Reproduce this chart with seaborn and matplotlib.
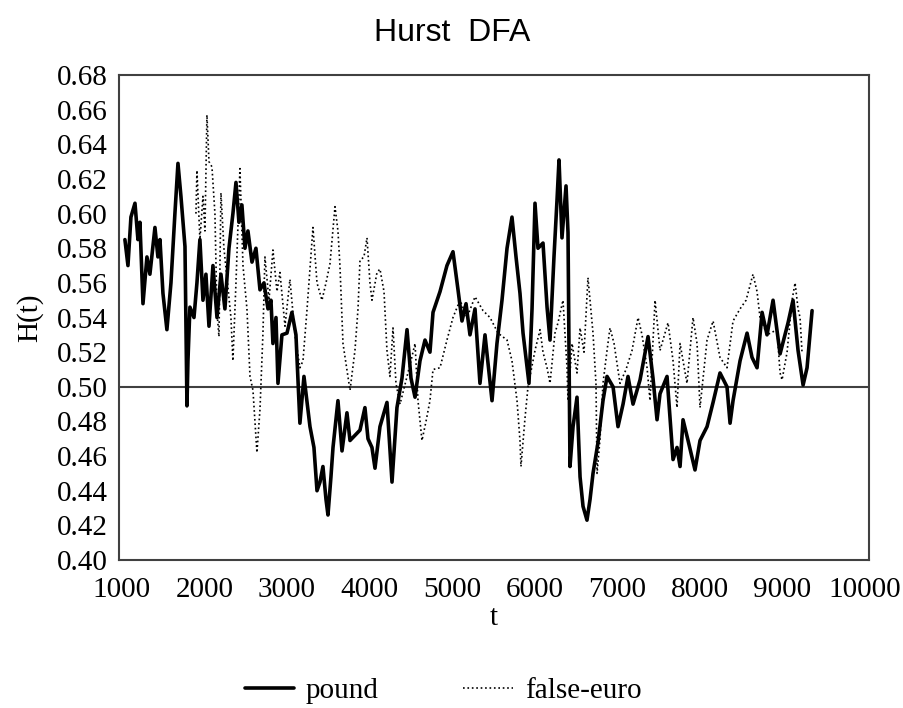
import seaborn as sns
import matplotlib.pyplot as plt
import pandas as pd

sns.set_theme(style="white")
plt.rcParams['font.family'] = ['Liberation Serif', 'DejaVu Serif']
plt.rcParams['text.color'] = 'black'
plt.rcParams['axes.labelcolor'] = 'black'
plt.rcParams['xtick.color'] = 'black'
plt.rcParams['ytick.color'] = 'black'

# values
pound_t = [1036, 1073, 1109, 1158, 1194, 1218, 1255, 1303, 1339, 1400, 1436, 1461, 1497, 1545,
           1594, 1642, 1679, 1715, 1764, 1788, 1800, 1824, 1873, 1909, 1945, 1982, 2018, 2055,
           2103, 2152, 2200, 2248, 2297, 2345, 2382, 2418, 2454, 2491, 2527, 2576, 2624, 2673,
           2721, 2770, 2806, 2830, 2867, 2891, 2939, 3000, 3060, 3109, 3157, 3206, 3279, 3327,
           3364, 3400, 3436, 3473, 3497, 3533, 3558, 3618, 3667, 3727, 3764, 3824, 3885, 3945,
           3982, 4030, 4067, 4127, 4212, 4273, 4333, 4394, 4455, 4503, 4552, 4612, 4673, 4733,
           4770, 4855, 4939, 5012, 5073, 5121, 5170, 5218, 5279, 5339, 5400, 5485, 5545, 5606,
           5667, 5727, 5776, 5824, 5861, 5933, 5970, 6006, 6042, 6103, 6152, 6188, 6236, 6273,
           6297, 6333, 6382, 6406, 6430, 6467, 6515, 6552, 6588, 6636, 6673, 6709, 6770, 6830,
           6879, 6952, 7012, 7073, 7133, 7194, 7279, 7376, 7436, 7485, 7521, 7606, 7679, 7727,
           7764, 7800, 7861, 7945, 8006, 8091, 8164, 8248, 8333, 8370, 8406, 8491, 8576, 8636,
           8697, 8758, 8818, 8891, 8976, 9073, 9133, 9194, 9255, 9303, 9364]
pound_h = [0.585, 0.570, 0.598, 0.606, 0.585, 0.595, 0.548, 0.575, 0.565, 0.592, 0.575, 0.585,
           0.554, 0.533, 0.560, 0.600, 0.629, 0.610, 0.581, 0.489, 0.515, 0.546, 0.540, 0.560,
           0.585, 0.550, 0.565, 0.535, 0.570, 0.540, 0.565, 0.545, 0.580, 0.600, 0.618, 0.595,
           0.605, 0.580, 0.590, 0.572, 0.580, 0.556, 0.560, 0.545, 0.550, 0.525, 0.540, 0.502,
           0.530, 0.531, 0.543, 0.530, 0.479, 0.506, 0.477, 0.465, 0.440, 0.445, 0.454, 0.435,
           0.426, 0.448, 0.465, 0.492, 0.463, 0.485, 0.469, 0.472, 0.475, 0.488, 0.470, 0.465,
           0.453, 0.477, 0.491, 0.445, 0.488, 0.505, 0.533, 0.505, 0.494, 0.515, 0.527, 0.520,
           0.543, 0.555, 0.570, 0.578, 0.556, 0.538, 0.548, 0.530, 0.545, 0.502, 0.530, 0.492,
           0.525, 0.550, 0.580, 0.598, 0.575, 0.554, 0.531, 0.502, 0.545, 0.606, 0.580, 0.583,
           0.546, 0.527, 0.575, 0.608, 0.631, 0.586, 0.616, 0.589, 0.454, 0.477, 0.494, 0.448,
           0.431, 0.423, 0.435, 0.450, 0.468, 0.492, 0.506, 0.500, 0.477, 0.490, 0.506, 0.490,
           0.504, 0.529, 0.505, 0.481, 0.496, 0.506, 0.458, 0.465, 0.454, 0.481, 0.469, 0.452,
           0.469, 0.477, 0.491, 0.508, 0.500, 0.479, 0.492, 0.515, 0.531, 0.517, 0.511, 0.543,
           0.530, 0.550, 0.519, 0.537, 0.550, 0.521, 0.501, 0.511, 0.544]

euro_t = [1897, 1909, 1945, 1982, 2006, 2030, 2055, 2091, 2127, 2152, 2176, 2200, 2236, 2273,
          2321, 2345, 2382, 2430, 2467, 2515, 2552, 2588, 2636, 2673, 2709, 2733, 2782, 2830,
          2879, 2915, 2976, 3036, 3097, 3157, 3194, 3242, 3315, 3364, 3424, 3473, 3521, 3582,
          3618, 3642, 3679, 3739, 3764, 3824, 3861, 3885, 3933, 3970, 4006, 4030, 4091, 4127,
          4176, 4212, 4248, 4285, 4321, 4370, 4455, 4503, 4552, 4588, 4636, 4685, 4733, 4770,
          4855, 4939, 5012, 5097, 5182, 5279, 5376, 5461, 5558, 5667, 5727, 5788, 5824, 5836,
          5885, 5921, 6006, 6067, 6103, 6152, 6188, 6248, 6285, 6345, 6394, 6406, 6455, 6515,
          6552, 6600, 6648, 6673, 6709, 6745, 6758, 6794, 6830, 6879, 6915, 6964, 7036, 7109,
          7182, 7255, 7303, 7364, 7400, 7461, 7521, 7618, 7679, 7727, 7764, 7848, 7921, 7970,
          8006, 8091, 8164, 8248, 8333, 8406, 8491, 8564, 8648, 8697, 8733, 8818, 8939, 8976,
          9000, 9061, 9121, 9158, 9194, 9218, 9242]
euro_h = [0.600, 0.625, 0.585, 0.610, 0.590, 0.657, 0.630, 0.627, 0.600, 0.543, 0.529, 0.612,
          0.580, 0.563, 0.540, 0.515, 0.560, 0.626, 0.570, 0.545, 0.506, 0.498, 0.462, 0.487,
          0.531, 0.575, 0.550, 0.579, 0.555, 0.566, 0.535, 0.562, 0.530, 0.511, 0.515, 0.544,
          0.592, 0.560, 0.550, 0.560, 0.571, 0.604, 0.590, 0.570, 0.525, 0.506, 0.498, 0.521,
          0.545, 0.573, 0.575, 0.586, 0.560, 0.550, 0.566, 0.568, 0.555, 0.521, 0.506, 0.534,
          0.502, 0.490, 0.506, 0.515, 0.525, 0.492, 0.469, 0.480, 0.492, 0.510, 0.511, 0.527,
          0.540, 0.550, 0.540, 0.552, 0.544, 0.540, 0.531, 0.527, 0.515, 0.492, 0.469, 0.454,
          0.482, 0.500, 0.521, 0.533, 0.520, 0.511, 0.502, 0.531, 0.537, 0.550, 0.511, 0.492,
          0.525, 0.508, 0.534, 0.520, 0.563, 0.550, 0.531, 0.502, 0.450, 0.470, 0.502, 0.521,
          0.534, 0.525, 0.502, 0.510, 0.521, 0.540, 0.530, 0.511, 0.492, 0.550, 0.521, 0.537,
          0.515, 0.488, 0.525, 0.502, 0.540, 0.525, 0.488, 0.527, 0.538, 0.517, 0.511, 0.538,
          0.545, 0.550, 0.565, 0.555, 0.540, 0.530, 0.533, 0.508, 0.504, 0.520, 0.550, 0.560,
          0.545, 0.540, 0.520]

y_ticks = [0.40, 0.42, 0.44, 0.46, 0.48, 0.50, 0.52, 0.54, 0.56, 0.58, 0.60, 0.62, 0.64, 0.66, 0.68]
x_ticks = [1000, 2000, 3000, 4000, 5000, 6000, 7000, 8000, 9000, 10000]

pound = pd.DataFrame({"t": pound_t, "H": pound_h})
euro = pd.DataFrame({"t": euro_t, "H": euro_h})

fig = plt.figure(figsize=(9.04, 7.08), dpi=100)
ax = fig.add_axes([0.1316, 0.209, 0.8297, 0.685])

sns.lineplot(data=pound, x="t", y="H", ax=ax, color="black", linewidth=2.6,
             label="pound", estimator=None, sort=False)
sns.lineplot(data=euro, x="t", y="H", ax=ax, color="black", linewidth=1.2,
             linestyle=":", label="false-euro", estimator=None, sort=False)

ax.axhline(0.5, color="#404040", linewidth=1.5, zorder=0)

ax.set_xlim(964, 10054)
ax.set_ylim(0.40, 0.68)
ax.set_xticks(x_ticks)
ax.set_yticks(y_ticks)
ax.set_yticklabels([f"{v:.2f}" for v in y_ticks], fontsize=21)
ax.set_xticklabels([str(v) for v in x_ticks], fontsize=21)
ax.tick_params(axis="both", length=0)
ax.tick_params(axis="y", pad=8)
ax.tick_params(axis="x", pad=12)

for s in ax.spines.values():
    s.set_color("#404040")
    s.set_linewidth(1.5)

ax.set_xlabel("t", fontsize=21, labelpad=2)
ax.set_ylabel("H(t)", fontsize=21, labelpad=10)

fig.suptitle("Hurst  DFA", fontsize=23, y=0.974, color="black",
             fontfamily=["Liberation Sans", "DejaVu Sans"])

handles, labels = ax.get_legend_handles_labels()
ax.get_legend().remove()
fig.legend(handles, labels, loc="lower center", bbox_to_anchor=(0.49, -0.032), ncol=2,
           frameon=False, fontsize=21, handlelength=1.7, handletextpad=0.4,
           columnspacing=2.9, labelcolor="black")

plt.savefig("out.png", dpi=100)
plt.close()
